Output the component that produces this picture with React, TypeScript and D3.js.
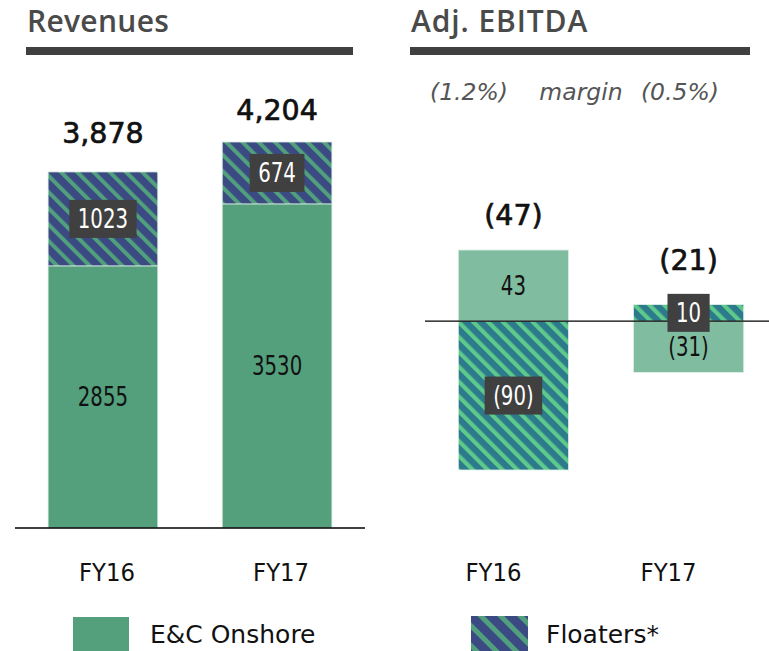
import React, { useRef, useEffect } from "react";
import * as d3 from "d3";

const categories = ["FY16", "FY17"];
const revOnshore = [2855, 3530];
const revFloaters = [1023, 674];
const ebitdaOnshore = [43, -31];
const ebitdaFloaters = [-90, 10];
const ebitdaMargins = ["(1.2%)", "(0.5%)"];
const legendLabels = ["E&C Onshore", "Floaters*"];

const W = 769;
const H = 651;
const SANS = "'DejaVu Sans', Verdana, sans-serif";

const fmtNeg = (v: number) => (v < 0 ? `(${Math.abs(v)})` : `${v}`);

// squeeze a text element horizontally, the source uses a condensed face
const squeeze = (t: any, k: number) => {
  const len = (t.node() as SVGTextElement).getComputedTextLength();
  t.attr("textLength", len * k).attr("lengthAdjust", "spacingAndGlyphs");
  return len * k;
};

export default function App() {
  const svgRef = useRef<SVGSVGElement>(null);

  useEffect(() => {
    const svg = d3.select(svgRef.current);
    svg.selectAll("*").remove();
    svg.attr("width", W).attr("height", H);

    const defs = svg.append("defs");
    const hatch = (id: string, bg: string, fg: string, period: number, stripe: number) => {
      const p = defs.append("pattern")
        .attr("id", id)
        .attr("patternUnits", "userSpaceOnUse")
        .attr("width", period)
        .attr("height", period)
        .attr("patternTransform", "rotate(-45)");
      p.append("rect").attr("width", period).attr("height", period).attr("fill", bg);
      p.append("rect").attr("width", stripe).attr("height", period).attr("fill", fg);
    };
    hatch("hatch-rev", "#3b4a82", "#51a07d", 11.5, 4);
    hatch("hatch-leg", "#3b4a82", "#51a07d", 14, 5);
    hatch("hatch-ebitda", "#2c7a8c", "#5dc98a", 10.5, 4.2);

    const ONSHORE = "#54a07d";
    const ONSHORE_LIGHT = "#80bc9f";

    // headers
    const header = (x: number, x2: number, label: string, spacing: number) => {
      svg.append("text")
        .attr("x", x + 1).attr("y", 32)
        .attr("font-family", "'Open Sans', sans-serif")
        .attr("font-weight", 600)
        .attr("font-size", 30)
        .attr("letter-spacing", spacing)
        .attr("fill", "#4a4a4a")
        .text(label);
      svg.append("rect").attr("x", x).attr("y", 47).attr("width", x2 - x).attr("height", 8).attr("fill", "#404040");
    };
    header(26, 353, "Revenues", 0.3);
    header(410, 750, "Adj. EBITDA", 0.9);

    const sub = (x: number, anchor: string, txt: string) =>
      svg.append("text")
        .attr("x", x).attr("y", 100)
        .attr("text-anchor", anchor)
        .attr("font-family", SANS)
        .attr("font-style", "italic")
        .attr("font-size", 23.5)
        .attr("fill", "#555")
        .text(txt);
    sub(430, "start", ebitdaMargins[0]);
    sub(581, "middle", "margin");
    sub(719, "end", ebitdaMargins[1]);

    const boxLabel = (g: any, cx: number, cy: number, txt: string) => {
      const lg = g.append("g");
      const rect = lg.append("rect").attr("fill", "#404040");
      const t = lg.append("text")
        .attr("x", cx).attr("y", cy + 9.5)
        .attr("text-anchor", "middle")
        .attr("font-family", SANS)
        .attr("font-size", 26)
        .attr("fill", "#fff")
        .text(txt);
      const w = squeeze(t, 0.76) + 17;
      rect.attr("x", cx - w / 2).attr("y", cy - 19).attr("width", w).attr("height", 38);
    };
    const plainLabel = (g: any, cx: number, cy: number, txt: string) => {
      const t = g.append("text")
        .attr("x", cx).attr("y", cy + 9.5)
        .attr("text-anchor", "middle")
        .attr("font-family", SANS)
        .attr("font-size", 26)
        .attr("fill", "#111")
        .text(txt);
      squeeze(t, 0.76);
    };
    const totalLabel = (x: number, y: number, txt: string) => {
      svg.append("text")
        .attr("x", x).attr("y", y)
        .attr("text-anchor", "middle")
        .attr("font-family", SANS)
        .attr("font-size", 28.5)
        .attr("fill", "#111")
        .attr("stroke", "#111")
        .attr("stroke-width", 0.7)
        .text(txt);
    };

    // ---------- Revenues ----------
    const xR = d3.scaleBand().domain(categories).range([15, 365]).paddingInner(0.37).paddingOuter(0.19);
    const revTotals = categories.map((_, i) => revOnshore[i] + revFloaters[i]);
    const yR = d3.scaleLinear().domain([0, d3.max(revTotals)!]).range([528, 142]);
    const gR = svg.append("g");

    categories.forEach((c, i) => {
      const x0 = xR(c)!;
      const bw = xR.bandwidth();
      const cx = x0 + bw / 2;
      gR.append("rect")
        .attr("x", x0).attr("y", yR(revOnshore[i]))
        .attr("width", bw).attr("height", yR(0) - yR(revOnshore[i]))
        .attr("fill", ONSHORE).attr("stroke", "#d9ebe2").attr("stroke-width", 0.8);
      gR.append("rect")
        .attr("x", x0).attr("y", yR(revTotals[i]))
        .attr("width", bw).attr("height", yR(revOnshore[i]) - yR(revTotals[i]))
        .attr("fill", "url(#hatch-rev)").attr("stroke", "#d9ebe2").attr("stroke-width", 0.8);
      plainLabel(gR, cx, (yR(0) + yR(revOnshore[i])) / 2, `${revOnshore[i]}`);
      boxLabel(gR, cx, (yR(revOnshore[i]) + yR(revTotals[i])) / 2, `${revFloaters[i]}`);
    });
    const revNudge = [29, 22];
    categories.forEach((c, i) => {
      totalLabel(xR(c)! + xR.bandwidth() / 2, yR(revTotals[i]) - revNudge[i], d3.format(",")(revTotals[i]));
    });
    svg.append("line").attr("x1", 15).attr("x2", 365).attr("y1", yR(0)).attr("y2", yR(0)).attr("stroke", "#000").attr("stroke-width", 1.3);

    // ---------- Adj. EBITDA ----------
    const xE = d3.scaleBand().domain(categories).range([425, 777]).paddingInner(0.37).paddingOuter(0.19);
    const rows = categories.map((c, i) => ({ cat: c, onshore: ebitdaOnshore[i], floaters: ebitdaFloaters[i] }));
    const stack = d3.stack<any>().keys(["onshore", "floaters"]).offset(d3.stackOffsetDiverging);
    const series = stack(rows);
    const yE = d3.scaleLinear()
      .domain([d3.min(series, s => d3.min(s, d => d[0]))!, d3.max(series, s => d3.max(s, d => d[1]))!])
      .range([470, 250]);
    const gE = svg.append("g");
    series.forEach(s => {
      s.forEach((d, i) => {
        const x0 = xE(categories[i])!;
        const bw = xE.bandwidth();
        const top = yE(d[1]);
        const bot = yE(d[0]);
        gE.append("rect")
          .attr("x", x0).attr("y", top).attr("width", bw).attr("height", bot - top)
          .attr("fill", s.key === "onshore" ? ONSHORE_LIGHT : "url(#hatch-ebitda)")
          .attr("stroke", "#e2f0e8").attr("stroke-width", 0.8);
      });
    });
    svg.append("line").attr("x1", 425).attr("x2", W).attr("y1", yE(0)).attr("y2", yE(0)).attr("stroke", "#000").attr("stroke-width", 1.2);
    const gEL = svg.append("g");
    series.forEach(s => {
      s.forEach((d, i) => {
        const cx = xE(categories[i])! + xE.bandwidth() / 2;
        const v = (s.key === "onshore" ? ebitdaOnshore : ebitdaFloaters)[i];
        const cy = (yE(d[0]) + yE(d[1])) / 2;
        if (s.key === "onshore") plainLabel(gEL, cx, cy, fmtNeg(v));
        else boxLabel(gEL, cx, cy, fmtNeg(v));
      });
    });

    const ebNudge = [25, 35];
    categories.forEach((c, i) => {
      const top = yE(Math.max(0, ebitdaOnshore[i]) + Math.max(0, ebitdaFloaters[i]));
      totalLabel(xE(c)! + xE.bandwidth() / 2, top - ebNudge[i], fmtNeg(ebitdaOnshore[i] + ebitdaFloaters[i]));
    });

    // category labels
    const xRL = d3.scaleBand().domain(categories).range([19, 369]).paddingInner(0.37).paddingOuter(0.19);
    const xEL = d3.scaleBand().domain(categories).range([405, 757]).paddingInner(0.37).paddingOuter(0.19);
    [xRL, xEL].forEach(sc => {
      categories.forEach(c => {
        const t = svg.append("text")
          .attr("x", sc(c)! + sc.bandwidth() / 2).attr("y", 581)
          .attr("text-anchor", "middle")
          .attr("font-family", SANS)
          .attr("font-size", 24.5)
          .attr("fill", "#111")
          .text(c);
        squeeze(t, 0.93);
      });
    });

    // legend
    const leg = svg.append("g");
    leg.append("rect").attr("x", 73).attr("y", 617).attr("width", 56).attr("height", 34).attr("fill", ONSHORE);
    leg.append("text").attr("x", 150).attr("y", 643)
      .attr("font-family", SANS).attr("font-size", 25).attr("fill", "#111").text(legendLabels[0]);
    leg.append("rect").attr("x", 471).attr("y", 616).attr("width", 57).attr("height", 35).attr("fill", "url(#hatch-leg)");
    leg.append("text").attr("x", 546).attr("y", 643)
      .attr("font-family", SANS).attr("font-size", 25).attr("fill", "#111").text(legendLabels[1]);
  }, []);

  return (
    <div style={{ width: W, height: H, background: "#fff" }}>
      <style>{`body{margin:0}`}</style>
      <svg ref={svgRef} style={{ display: "block" }}></svg>
    </div>
  );
}
